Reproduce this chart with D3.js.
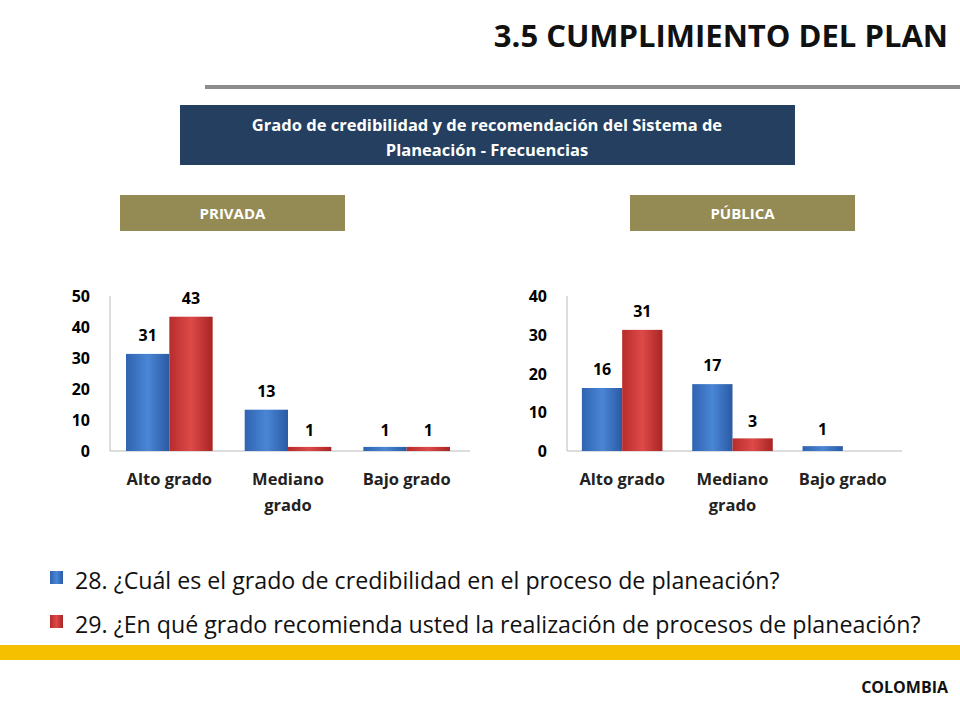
<!DOCTYPE html><html><head><meta charset="utf-8"><script src="https://cdn.jsdelivr.net/npm/d3@7"></script>
<style>body{margin:0;background:#fff}text{font-family:"Open Sans",sans-serif}</style></head><body><svg id="c" width="960" height="720"></svg><script>
const categories=["Alto grado","Mediano grado","Bajo grado"];
const privada28=[31,13,1], privada29=[43,1,1];
const publica28=[16,17,1], publica29=[31,3,0];
const privTicks=[0,10,20,30,40,50], pubTicks=[0,10,20,30,40];
const legend=["28. ¿Cuál es el grado de credibilidad en el proceso de planeación?","29. ¿En qué grado recomienda usted la realización de procesos de planeación?"];
const svg=d3.select("#c");
const defs=svg.append("defs");
function grad(id,c1,c2,c3){const g=defs.append("linearGradient").attr("id",id);g.append("stop").attr("offset","0").attr("stop-color",c1);g.append("stop").attr("offset","0.5").attr("stop-color",c2);g.append("stop").attr("offset","1").attr("stop-color",c3);}
grad("gb","#2f63b0","#4a86d6","#2a5aa3");grad("gr","#b82c2c","#dd4a48","#a82424");
svg.append("text").attr("x",948).attr("y",47).attr("text-anchor","end").attr("font-size",31).attr("font-weight","bold").attr("fill","#111").text("3.5 CUMPLIMIENTO DEL PLAN");
svg.append("rect").attr("x",205).attr("y",85).attr("width",755).attr("height",4).attr("fill","#8c8c8c");
svg.append("rect").attr("x",180).attr("y",105).attr("width",615).attr("height",60).attr("fill","#243f60");
svg.append("text").attr("x",487).attr("y",131).attr("text-anchor","middle").attr("fill","#fff").attr("font-size",16.5).attr("font-weight","bold").text("Grado de credibilidad  y de recomendación  del Sistema de");
svg.append("text").attr("x",487).attr("y",156).attr("text-anchor","middle").attr("fill","#fff").attr("font-size",16.5).attr("font-weight","bold").text("Planeación  - Frecuencias");
[["PRIVADA",120],["PÚBLICA",630]].forEach(([t,x])=>{svg.append("rect").attr("x",x).attr("y",195).attr("width",225).attr("height",36).attr("fill","#948a54");
svg.append("text").attr("x",x+112.5).attr("y",219).attr("text-anchor","middle").attr("fill","#fff").attr("font-size",15).attr("font-weight","bold").text(t);});
function chart(x0,x1,max,ticks,s1,s2){
 const x=d3.scaleBand().domain(categories).range([x0,x1]);
 const y=d3.scaleLinear().domain([0,max]).range([451,296]);
 const g=svg.append("g");
 g.append("line").attr("x1",x0).attr("x2",x0).attr("y1",296).attr("y2",451).attr("stroke","#bbb");
 g.append("line").attr("x1",x0).attr("x2",x1+4).attr("y1",451).attr("y2",451).attr("stroke","#bbb");
 ticks.forEach(t=>g.append("text").attr("x",x0-20).attr("y",y(t)+6).attr("text-anchor","end").attr("font-size",16).attr("font-weight","bold").text(t));
 const bw=x.bandwidth()*0.365;
 [[s1,"gb",-1],[s2,"gr",0]].forEach(([s,gid,o])=>{
  categories.forEach((c,i)=>{const cx=x(c)+x.bandwidth()/2+o*bw;const v=s[i];
   if(v>0){g.append("rect").attr("x",cx).attr("y",y(v)-1).attr("width",bw).attr("height",451-y(v)+1).attr("fill",`url(#${gid})`);
   g.append("text").attr("x",cx+bw/2).attr("y",y(v)-(v<4?12:14)).attr("text-anchor","middle").attr("font-size",16).attr("font-weight","bold").text(v);}
  });});
 categories.forEach(c=>{const w=c==="Mediano grado"?["Mediano","grado"]:[c];
  w.forEach((t,j)=>g.append("text").attr("x",x(c)+x.bandwidth()/2).attr("y",485+j*26).attr("text-anchor","middle").attr("font-size",16.5).attr("font-weight","bold").attr("fill","#222").text(t));});
}
chart(110,466,50,privTicks,privada28,privada29);
chart(567,898,40,pubTicks,publica28,publica29);
legend.forEach((t,i)=>{const y=580+i*44;
 svg.append("rect").attr("x",50).attr("y",y-9).attr("width",13).attr("height",13).attr("fill",i?"url(#gr)":"url(#gb)");
 svg.append("text").attr("x",75).attr("y",y+9).attr("font-size",23.2).attr("fill","#111").text(t);});
svg.append("rect").attr("x",0).attr("y",645).attr("width",960).attr("height",15).attr("fill","#f5c000");
svg.append("text").attr("x",948).attr("y",693).attr("text-anchor","end").attr("font-size",16).attr("font-weight","bold").attr("fill","#111").text("COLOMBIA");
</script></body></html>
